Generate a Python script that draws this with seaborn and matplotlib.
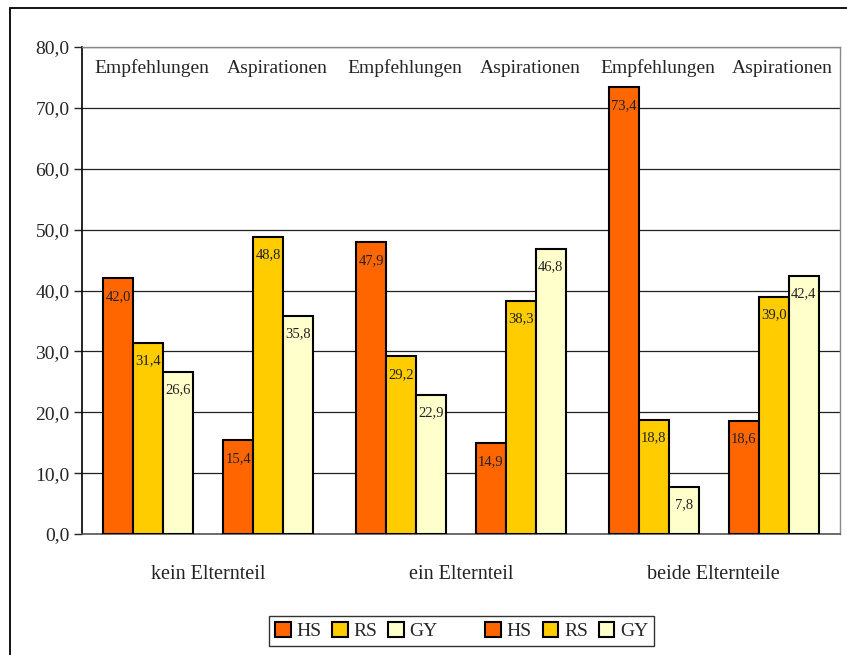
import matplotlib
matplotlib.use("Agg")
import matplotlib.pyplot as plt
import matplotlib.patches as mpatches
from matplotlib.ticker import FuncFormatter, FixedLocator
import seaborn as sns
import pandas as pd

# werte aus der grafik (Empfehlungen / Aspirationen je Schulform)
groups = ["kein Elternteil", "ein Elternteil", "beide Elternteile"]
emp_hs = [42.0, 47.9, 73.4]
emp_rs = [31.4, 29.2, 18.8]
emp_gy = [26.6, 22.9, 7.8]
asp_hs = [15.4, 14.9, 18.6]
asp_rs = [48.8, 38.3, 39.0]
asp_gy = [35.8, 46.8, 42.4]
slots = ["HS_E", "RS_E", "GY_E", "leer", "HS_A", "RS_A", "GY_A"]
top_labels = ["Empfehlungen", "Aspirationen"]

colors = {"HS_E": "#FF6600", "RS_E": "#FFCC00", "GY_E": "#FFFFCC", "leer": "#FFFFFF",
          "HS_A": "#FF6600", "RS_A": "#FFCC00", "GY_A": "#FFFFCC"}

series = [emp_hs, emp_rs, emp_gy, [0, 0, 0], asp_hs, asp_rs, asp_gy]
rows = []
for name, vals in zip(slots, series):
    for g, v in zip(groups, vals):
        rows.append({"Gruppe": g, "Reihe": name, "Wert": v})
df = pd.DataFrame(rows)

sns.set_style("white")
plt.rcParams["font.family"] = ["Liberation Serif", "DejaVu Serif"]

fig = plt.figure(figsize=(8.47, 6.55), dpi=100)
ax = fig.add_axes([0.0968, 0.1847, 0.895, 0.7435])

sns.barplot(data=df, x="Gruppe", y="Wert", hue="Reihe", order=groups, hue_order=slots,
            palette=colors, saturation=1, width=0.83, edgecolor="black", linewidth=1.5,
            legend=False, ax=ax, zorder=3)

for p in ax.patches:
    h = p.get_height()
    if h == 0:
        p.set_visible(False)
        continue
    ax.annotate(f"{h:.1f}".replace(".", ","), (p.get_x() + p.get_width() / 2, h),
                xytext=(0, -18), textcoords="offset pixels", ha="center", va="center",
                fontsize=10.5, color="#222222", zorder=4)

ax.set_ylim(0, 80)
ax.set_xlim(-0.5, 2.5)
ax.set_yticks(range(0, 81, 10))
ax.yaxis.set_major_formatter(FuncFormatter(lambda v, _: f"{v:.1f}".replace(".", ",")))
ax.grid(axis="y", color="#222222", linewidth=0.9, zorder=0)
ax.set_axisbelow(True)
ax.set_xlabel("")
ax.set_ylabel("")

ax.xaxis.set_minor_locator(FixedLocator([-0.5, 0.5, 1.5, 2.5]))
ax.tick_params(axis="x", which="major", length=0, pad=22, labelsize=14.5, labelcolor="#222222")
ax.tick_params(axis="x", which="minor", length=6, width=1, color="#444444", direction="out")
ax.tick_params(axis="y", length=6, width=1, direction="out", left=True, labelsize=14, pad=3)

for side in ["top", "right"]:
    ax.spines[side].set_color("#888888")
    ax.spines[side].set_linewidth(1)
ax.spines["left"].set_color("black")
ax.spines["left"].set_linewidth(1.2)
ax.spines["bottom"].set_color("#555555")
ax.spines["bottom"].set_linewidth(1.2)

w = 0.83 / 7
for i in range(len(groups)):
    ax.text(i - 2 * w + 0.015, 76.5, top_labels[0], ha="center", va="center", fontsize=14)
    ax.text(i + 2 * w + 0.035, 76.5, top_labels[1], ha="center", va="center", fontsize=14)

handles = []
for name in slots:
    if name == "leer":
        handles.append(mpatches.Patch(facecolor="none", edgecolor="none", label=" "))
    else:
        handles.append(mpatches.Patch(facecolor=colors[name], edgecolor="black",
                                      linewidth=1.5, label=name.split("_")[0]))
leg = fig.legend(handles=handles, ncol=7, loc="center", bbox_to_anchor=(0.545, 0.0365),
                 frameon=True, fancybox=False, fontsize=14, handlelength=0.8,
                 handleheight=0.8, handletextpad=0.3, columnspacing=0.55,
                 borderpad=0.3, edgecolor="black")
leg.get_frame().set_linewidth(1)

fig.add_artist(mpatches.Rectangle((0.0118, -0.05), 1.2, 1.0378, transform=fig.transFigure,
                                  fill=False, edgecolor="black", linewidth=1.3))

fig.savefig("out.png", dpi=100)
